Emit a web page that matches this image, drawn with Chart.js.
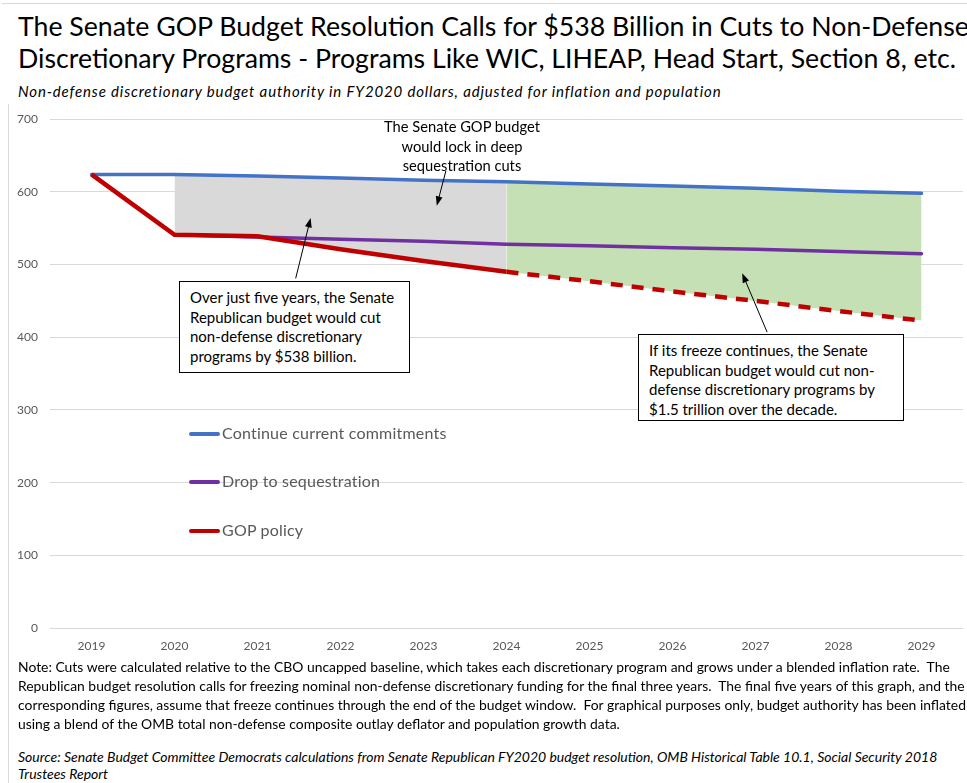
<!DOCTYPE html>
<html>
<head>
<meta charset="utf-8">
<script src="https://cdn.jsdelivr.net/npm/chart.js@4"></script>
<style>
  html, body { margin: 0; padding: 0; background: #fff; }
  body { width: 967px; height: 783px; overflow: hidden; position: relative; font-family: Lato, "Open Sans", sans-serif; }
  .frame-top { position: absolute; left: 2px; top: 3px; width: 965px; border-top: 1px solid #d9d9d9; }
  .frame-left { position: absolute; left: 8px; top: 104px; height: 679px; border-left: 1px solid #d9d9d9; }
  .title { position: absolute; left: 18px; top: 10px; font-size: 26.7px; line-height: 32px; color: #000; white-space: nowrap; }
  .subtitle { position: absolute; left: 18px; top: 82px; font-size: 15px; letter-spacing: 0.85px; font-style: italic; color: #000; white-space: nowrap; }
  .chart-wrap { position: absolute; left: 0; top: 100px; width: 967px; height: 560px; }
  .legend { position: absolute; left: 189px; font-size: 16px; letter-spacing: 0.2px; color: #595959; white-space: nowrap; }
  .legend span.sw { display: inline-block; width: 31px; height: 4px; border-radius: 2px; vertical-align: middle; margin-right: 2px; position: relative; top: -1px; }
  .note-top { position: absolute; left: 362px; top: 117px; width: 200px; text-align: center; font-size: 14.7px; line-height: 19.5px; color: #000; }
  .box { position: absolute; border: 1px solid #000; background: #fff; font-size: 15px; line-height: 19.5px; color: #000; padding: 6px 0 0 10px; box-sizing: border-box; white-space: nowrap; }
  .notes { position: absolute; left: 18px; top: 657px; font-size: 13.9px; line-height: 19px; color: #000; white-space: nowrap; }
  .source { position: absolute; left: 18px; top: 748px; font-size: 14px; line-height: 17px; font-style: italic; color: #000; white-space: nowrap; }
</style>
</head>
<body>
<div class="frame-top"></div>
<div class="frame-left"></div>
<div class="title">The Senate GOP Budget Resolution Calls for $538 Billion in Cuts to Non-Defense<br>Discretionary Programs - Programs Like WIC, LIHEAP, Head Start, Section 8, etc.</div>
<div class="subtitle">Non-defense discretionary budget authority in FY2020 dollars, adjusted for inflation and population</div>

<div class="chart-wrap"><canvas id="chart"></canvas></div>

<div class="note-top">The Senate GOP budget<br>would lock in deep<br>sequestration cuts</div>

<div class="box" style="left:179px; top:281px; width:231px; height:92px;">Over just five years, the Senate<br>Republican budget would cut<br>non-defense discretionary<br>programs by $538 billion.</div>
<div class="box" style="left:638px; top:334px; width:266px; height:87px;">If its freeze continues, the Senate<br>Republican budget would cut non-<br>defense discretionary programs by<br>$1.5 trillion over the decade.</div>

<div class="legend" style="top:423px;"><span class="sw" style="background:#4472C4"></span>Continue current commitments</div>
<div class="legend" style="top:471px;"><span class="sw" style="background:#7030A0"></span>Drop to sequestration</div>
<div class="legend" style="top:520px;"><span class="sw" style="background:#C00000"></span>GOP policy</div>

<div class="notes">Note: Cuts were calculated relative to the CBO uncapped baseline, which takes each discretionary program and grows under a blended inflation rate.&nbsp; The<br>Republican budget resolution calls for freezing nominal non-defense discretionary funding for the final three years.&nbsp; The final five years of this graph, and the<br>corresponding figures, assume that freeze continues through the end of the budget window.&nbsp; For graphical purposes only, budget authority has been inflated<br>using a blend of the OMB total non-defense composite outlay deflator and population growth data.</div>
<div class="source">Source: Senate Budget Committee Democrats calculations from Senate Republican FY2020 budget resolution, OMB Historical Table 10.1, Social Security 2018<br>Trustees Report</div>

<script>
// --- data (billions, FY2020 dollars) ---
const years = ['2019', '2020', '2021', '2022', '2023', '2024', '2025', '2026', '2027', '2028', '2029'];
const currentCommitments = [624, 624, 622, 619, 616, 614, 611, 608, 605, 601, 598];
const sequestration = [null, 541, 538, 535, 532, 528, 526, 523, 521, 518, 515];
const gopPolicy = [624, 541, 539, 521, 505, 490, 477, 463, 450, 436, 423];
const yTicks = [0, 100, 200, 300, 400, 500, 600, 700];

// five-year window (2020-2024) and the freeze years (2024-2029)
const fiveYr = (arr) => arr.map((v, i) => (i >= 1 && i <= 5 ? v : null));
const freeze = (arr) => arr.map((v, i) => (i >= 5 ? v : null));

// arrows for the callouts: [fromIndex, fromValue, toIndex, toValue]
const arrows = [
  [4.27, 629, 4.16, 581],
  [2.46, 481, 2.64, 564],
  [8.14, 407, 7.84, 488]
];

const arrowPlugin = {
  id: 'arrows',
  afterDatasetsDraw(chart) {
    const { ctx, scales: { x, y } } = chart;
    ctx.save();
    ctx.strokeStyle = '#000';
    ctx.fillStyle = '#000';
    ctx.lineWidth = 1;
    arrows.forEach(a => {
      const x1 = x.getPixelForValue(a[0]), y1 = y.getPixelForValue(a[1]);
      const x2 = x.getPixelForValue(a[2]), y2 = y.getPixelForValue(a[3]);
      const ang = Math.atan2(y2 - y1, x2 - x1);
      ctx.beginPath();
      ctx.moveTo(x1, y1);
      ctx.lineTo(x2 - 6 * Math.cos(ang), y2 - 6 * Math.sin(ang));
      ctx.stroke();
      ctx.beginPath();
      ctx.moveTo(x2, y2);
      ctx.lineTo(x2 - 10 * Math.cos(ang - 0.35), y2 - 10 * Math.sin(ang - 0.35));
      ctx.lineTo(x2 - 10 * Math.cos(ang + 0.35), y2 - 10 * Math.sin(ang + 0.35));
      ctx.closePath();
      ctx.fill();
    });
    ctx.restore();
  }
};

const lineBase = { pointRadius: 0, pointHoverRadius: 0, tension: 0, fill: false, borderCapStyle: 'round' };
const bandBase = { pointRadius: 0, borderWidth: 0, tension: 0, borderColor: 'transparent' };

new Chart(document.getElementById('chart'), {
  type: 'line',
  data: {
    labels: years,
    datasets: [
      { ...lineBase, label: 'GOP policy', data: gopPolicy, borderColor: '#C00000', borderWidth: 4.5, order: 0,
        segment: { borderDash: c => (c.p0DataIndex >= 5 ? [12, 9] : undefined) }, borderCapStyle: 'butt' },
      { ...lineBase, label: 'Continue current commitments', data: currentCommitments, borderColor: '#4472C4', borderWidth: 3.5, order: 1 },
      { ...lineBase, label: 'Drop to sequestration', data: sequestration, borderColor: '#7030A0', borderWidth: 3.5, order: 2 },
      { ...bandBase, label: 'cuts 5yr', data: fiveYr(currentCommitments), fill: { target: 4 }, backgroundColor: '#D9D9D9', order: 5 },
      { ...bandBase, label: 'cuts 5yr low', data: fiveYr(gopPolicy), fill: false, order: 6 },
      { ...bandBase, label: 'cuts freeze', data: freeze(currentCommitments), fill: { target: 6 }, backgroundColor: '#C5E0B4', order: 5 },
      { ...bandBase, label: 'cuts freeze low', data: freeze(gopPolicy), fill: false, order: 6 }
    ]
  },
  options: {
    responsive: true,
    maintainAspectRatio: false,
    animation: false,
    events: [],
    layout: { padding: { top: 16, right: 4, left: 0, bottom: 0 } },
    plugins: {
      legend: { display: false },
      tooltip: { enabled: false },
      filler: { drawTime: 'beforeDatasetsDraw' }
    },
    scales: {
      x: {
        offset: true,
        grid: { display: false, drawTicks: false, offset: true },
        border: { display: false },
        ticks: { color: '#595959', font: { size: 12, family: 'Lato' }, padding: 11, maxRotation: 0 },
        afterFit: s => { s.height = 32; }
      },
      y: {
        min: 0, max: 700,
        afterBuildTicks: s => { s.ticks = yTicks.map(v => ({ value: v })); },
        grid: { color: '#D9D9D9', lineWidth: 1, drawTicks: false },
        border: { display: false },
        ticks: { color: '#595959', font: { size: 12, family: 'Lato' }, padding: 12 },
        afterFit: s => { s.width = 50; }
      }
    }
  },
  plugins: [arrowPlugin]
});
</script>
</body>
</html>
